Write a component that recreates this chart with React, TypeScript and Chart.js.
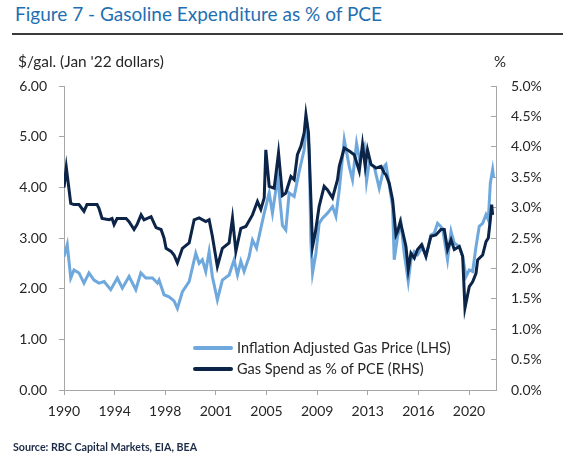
import React, { useEffect, useRef } from 'react';
import { Chart, registerables } from 'chart.js';

Chart.register(...registerables);

// Inflation adjusted gas price, $/gal (Jan '22 dollars) - LHS
const priceYears = [
  1990.5, 1990.74, 1991.0, 1991.24, 1991.61, 1991.98, 1992.35, 1992.72, 1993.09, 1993.47,
  1993.96, 1994.45, 1994.82, 1995.32, 1995.82, 1996.19, 1996.56, 1997.05, 1997.42, 1997.54,
  1997.91, 1998.28, 1998.65, 1998.9, 1999.27, 1999.77, 2000.26, 2000.51, 2000.75, 2001.0,
  2001.25, 2001.49, 2001.86, 2002.23, 2002.73, 2003.1, 2003.35, 2003.6, 2003.84, 2004.21,
  2004.46, 2004.76, 2005.08, 2005.33, 2005.7, 2005.94, 2006.33, 2006.68, 2006.93, 2007.18,
  2007.55, 2007.92, 2008.29, 2008.46, 2008.66, 2008.79, 2008.91, 2009.16, 2009.4, 2009.65,
  2010.02, 2010.39, 2010.64, 2010.89, 2011.26, 2011.63, 2011.87, 2012.17, 2012.37, 2012.74,
  2012.91, 2013.11, 2013.48, 2013.85, 2014.22, 2014.35, 2014.59, 2014.84, 2014.96, 2015.21,
  2015.46, 2015.7, 2016.0, 2016.2, 2016.45, 2016.69, 2017.06, 2017.31, 2017.68, 2017.93,
  2018.17, 2018.54, 2018.91, 2019.17, 2019.41, 2019.78, 2020.03, 2020.28, 2020.52, 2020.77,
  2021.02, 2021.26, 2021.51, 2021.76, 2021.93, 2022.08, 2022.25, 2022.32,
];
const priceValues = [
  2.63, 2.87, 2.21, 2.37, 2.31, 2.11, 2.31, 2.17, 2.11, 2.14,
  1.98, 2.21, 2.01, 2.24, 1.98, 2.31, 2.21, 2.21, 2.11, 2.17,
  1.88, 1.84, 1.76, 1.61, 1.94, 2.14, 2.7, 2.5, 2.57, 2.34,
  2.73, 2.24, 1.78, 2.17, 2.27, 2.57, 2.27, 2.54, 2.34, 2.63,
  2.96, 2.8, 3.19, 3.49, 3.89, 3.49, 4.2, 3.25, 3.16, 3.89,
  3.82, 4.31, 4.74, 5.34, 4.74, 2.9, 2.31, 2.7, 3.29, 3.39,
  3.49, 3.62, 3.43, 3.95, 4.94, 4.41, 4.15, 4.87, 4.58, 4.81,
  4.12, 4.48, 4.41, 3.98, 4.41, 4.45, 4.05, 3.62, 2.57, 3.03,
  3.29, 2.7, 2.14, 2.57, 2.73, 2.67, 2.83, 2.63, 3.06, 3.1,
  3.29, 3.19, 2.57, 3.13, 2.9, 2.83, 2.63, 2.24, 2.37, 2.34,
  2.83, 3.23, 3.29, 3.46, 3.36, 4.08, 4.35, 4.2,
];

// Gas spend as % of PCE - RHS
const spendYears = [
  1990.5, 1990.67, 1991.0, 1991.24, 1991.61, 1991.98, 1992.2, 1992.95, 1993.09, 1993.32,
  1993.84, 1994.06, 1994.21, 1994.43, 1995.1, 1995.32, 1995.69, 1995.91, 1996.21, 1996.43,
  1996.95, 1997.32, 1997.69, 1997.91, 1998.06, 1998.43, 1998.65, 1998.9, 1999.27, 1999.77,
  2000.14, 2000.51, 2001.0, 2001.25, 2001.49, 2001.86, 2002.23, 2002.73, 2002.98, 2003.23,
  2003.6, 2003.97, 2004.46, 2004.83, 2005.08, 2005.33, 2005.45, 2005.7, 2006.07, 2006.39,
  2006.68, 2006.93, 2007.31, 2007.55, 2007.79, 2008.05, 2008.29, 2008.42, 2008.61, 2008.79,
  2008.91, 2009.11, 2009.4, 2009.77, 2010.02, 2010.39, 2010.76, 2010.89, 2011.26, 2011.63,
  2012.0, 2012.37, 2012.61, 2012.81, 2012.98, 2013.24, 2013.61, 2013.98, 2014.22, 2014.35,
  2014.59, 2014.84, 2015.09, 2015.21, 2015.41, 2015.58, 2015.83, 2016.0, 2016.2, 2016.45,
  2016.69, 2016.99, 2017.31, 2017.68, 2018.05, 2018.42, 2018.67, 2018.91, 2019.17, 2019.41,
  2019.78, 2020.03, 2020.2, 2020.52, 2020.77, 2021.02, 2021.14, 2021.51, 2021.76, 2021.93,
  2022.08, 2022.18, 2022.25,
];
const spendValues = [
  3.33, 3.66, 3.07, 3.05, 3.05, 2.94, 3.05, 3.05, 2.99, 2.82,
  2.8, 2.82, 2.72, 2.82, 2.82, 2.77, 2.64, 2.72, 2.88, 2.8,
  2.85, 2.67, 2.64, 2.5, 2.33, 2.28, 2.22, 2.09, 2.33, 2.42,
  2.8, 2.83, 2.77, 2.8, 2.53, 2.03, 2.33, 2.42, 2.83, 2.28,
  2.66, 2.69, 2.88, 3.1, 2.97, 3.16, 3.95, 3.35, 3.32, 3.9,
  3.2, 3.24, 3.51, 3.46, 3.87, 4.01, 4.23, 4.53, 4.23, 3.13,
  2.36, 2.58, 3.02, 3.35, 3.29, 3.16, 3.46, 3.68, 3.98, 3.93,
  3.87, 3.6, 4.04, 3.68, 3.95, 3.71, 3.65, 3.68, 3.57, 3.54,
  3.4, 3.13, 2.55, 2.61, 2.77, 2.61, 2.36, 1.98, 2.25, 2.17,
  2.31, 2.39, 2.2, 2.53, 2.55, 2.64, 2.64, 2.31, 2.47, 2.31,
  2.36, 2.2, 1.35, 1.7, 1.78, 1.92, 2.14, 2.22, 2.44, 2.5,
  2.8, 3.05, 2.88,
];

const xTickPositions = [1990.5, 1994.25, 1998, 2001.75, 2005.5, 2009.25, 2013, 2016.75, 2020.5];
const xTickLabels = ['1990', '1994', '1998', '2001', '2005', '2009', '2013', '2016', '2020'];

const seriesNames = ['Inflation Adjusted Gas Price (LHS)', 'Gas Spend as % of PCE (RHS)'];
const LIGHT = '#6fa8dc';
const DARK = '#0b2447';
const AXIS = '#a6a6a6';
const TEXT = '#262626';
const FONT = 'Lato, "Noto Sans", sans-serif';

export default function App() {
  const ref = useRef<HTMLCanvasElement | null>(null);

  useEffect(() => {
    if (!ref.current) return;
    const tickFont = { family: FONT, size: 14 };
    const chart = new Chart(ref.current, {
      type: 'line',
      data: {
        datasets: [
          {
            label: seriesNames[1],
            data: spendYears.map((x, i) => ({ x, y: spendValues[i] })),
            borderColor: DARK,
            borderWidth: 3,
            pointRadius: 0,
            tension: 0,
            yAxisID: 'yR',
            order: 0,
          },
          {
            label: seriesNames[0],
            data: priceYears.map((x, i) => ({ x, y: priceValues[i] })),
            borderColor: LIGHT,
            borderWidth: 3,
            pointRadius: 0,
            tension: 0,
            yAxisID: 'yL',
            order: 1,
          },
        ],
      },
      options: {
        animation: false,
        responsive: false,
        devicePixelRatio: 1,
        layout: { padding: { top: 86, left: 0, right: 0, bottom: 0 } },
        plugins: { legend: { display: false }, tooltip: { enabled: false }, title: { display: false } },
        scales: {
          x: {
            type: 'linear',
            min: 1990.5,
            max: 2022.5,
            afterBuildTicks: (s: any) => {
              s.ticks = xTickPositions.map((v) => ({ value: v }));
            },
            ticks: {
              autoSkip: false,
              maxRotation: 0,
              padding: 8,
              color: TEXT,
              font: tickFont,
              callback: (_v: any, i: number) => xTickLabels[i],
            },
            grid: { drawOnChartArea: false, tickLength: 5, color: AXIS },
            border: { color: AXIS },
            afterFit: (s: any) => {
              s.height = 69;
            },
          },
          yL: {
            position: 'left',
            min: 0,
            max: 6,
            ticks: {
              stepSize: 1,
              padding: 12,
              color: TEXT,
              font: tickFont,
              callback: (v: any) => Number(v).toFixed(2),
            },
            grid: { drawOnChartArea: false, tickLength: 5, color: AXIS },
            border: { color: AXIS },
            afterFit: (s: any) => {
              s.width = 64;
            },
          },
          yR: {
            position: 'right',
            min: 0,
            max: 5,
            ticks: {
              stepSize: 0.5,
              padding: 20,
              color: TEXT,
              font: tickFont,
              callback: (v: any) => Number(v).toFixed(1) + '%',
            },
            grid: { drawOnChartArea: false, tickLength: -5, color: AXIS },
            border: { color: AXIS },
            afterFit: (s: any) => {
              s.width = 563 - 496;
            },
          },
        },
      },
    } as any);
    return () => chart.destroy();
  }, []);

  const abs = (o: React.CSSProperties): React.CSSProperties => ({ position: 'absolute', whiteSpace: 'nowrap', ...o });

  return (
    <div style={{ position: 'fixed', left: 0, top: 0, width: 563, height: 459, background: '#fff', fontFamily: FONT, color: TEXT, overflow: 'hidden' }}>
      <div style={abs({ left: 15, top: 2, fontSize: 19, color: '#1f6fb2', lineHeight: '24px' })}>
        Figure 7 - Gasoline Expenditure as % of PCE
      </div>
      <div style={abs({ left: 12, top: 33, width: 551, height: 2, background: '#3a3a3a' })} />
      <canvas ref={ref} width={563} height={459} style={{ position: 'absolute', left: 0, top: 0, width: 563, height: 459 }} />
      <div style={abs({ left: 18, top: 52, fontSize: 15.4, lineHeight: '19px' })}>$/gal. (Jan '22 dollars)</div>
      <div style={abs({ left: 494, top: 52, fontSize: 15, lineHeight: '19px' })}>%</div>
      <div style={abs({ left: 193, top: 346, width: 40, height: 4, borderRadius: 2, background: LIGHT })} />
      <div style={abs({ left: 237, top: 339, fontSize: 14.5, lineHeight: '18px' })}>{seriesNames[0]}</div>
      <div style={abs({ left: 193, top: 367, width: 40, height: 4, borderRadius: 2, background: DARK })} />
      <div style={abs({ left: 237, top: 360, fontSize: 14.5, lineHeight: '18px' })}>{seriesNames[1]}</div>
      <div style={abs({ left: 13, top: 440, fontSize: 10.7, fontWeight: 700, color: '#1d2b48', lineHeight: '14px' })}>
        Source: RBC Capital Markets, EIA, BEA
      </div>
    </div>
  );
}
